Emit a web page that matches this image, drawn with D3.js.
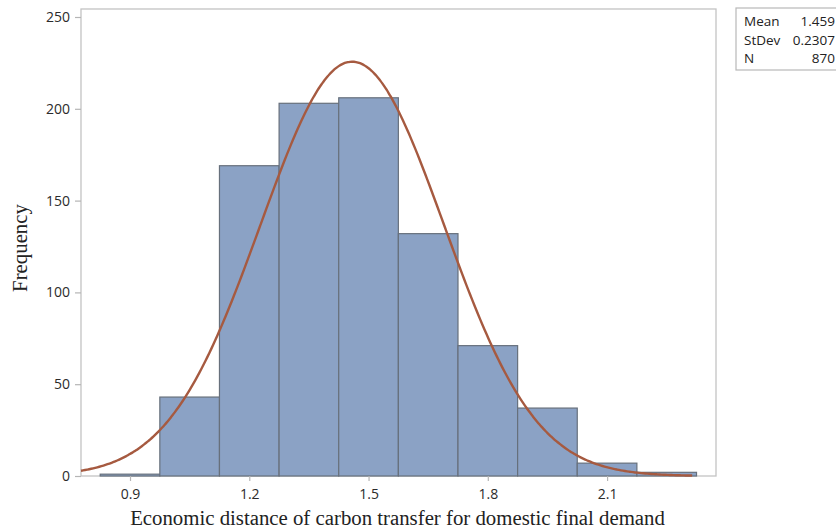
<!DOCTYPE html>
<meta charset="utf-8">
<body style="margin:0;background:#fff">
<script src="https://d3js.org/d3.v7.min.js"></script>
<script>

// histogram data
var binEdges = [0.825, 0.975, 1.125, 1.275, 1.425, 1.575, 1.725, 1.875, 2.025, 2.175, 2.325];
var counts   = [1, 43, 169, 203, 206, 132, 71, 37, 7, 2];
var xTicks   = [0.9, 1.2, 1.5, 1.8, 2.1];
var yTicks   = [0, 50, 100, 150, 200, 250];
var statLabels = ["Mean", "StDev", "N"];
var statValues = ["1.459", "0.2307", "870"];
var mean = 1.459, sd = 0.2307, n = 870;

var W = 836, H = 531;
var plot = {left: 81, right: 716, top: 9, bottom: 476};

var svg = d3.select("body").append("svg")
    .attr("width", W)
    .attr("height", H)
    .style("display", "block");

var x = d3.scaleLinear().domain([0.7767, 2.374]).range([plot.left, plot.right]);
var y = d3.scaleLinear().domain([0, 250]).range([plot.bottom, 17]);

// plot frame
svg.append("rect")
    .attr("x", plot.left).attr("y", plot.top)
    .attr("width", plot.right - plot.left)
    .attr("height", plot.bottom - plot.top)
    .attr("fill", "none")
    .attr("stroke", "#c3c3c3")
    .attr("stroke-width", 1.3);

// bars
svg.selectAll(".bar")
    .data(counts)
  .enter().append("rect")
    .attr("class", "bar")
    .attr("x", function(d, i) { return x(binEdges[i]); })
    .attr("y", function(d) { return y(d); })
    .attr("width", function(d, i) { return x(binEdges[i + 1]) - x(binEdges[i]); })
    .attr("height", function(d) { return y(0) - y(d); })
    .attr("fill", "#8ba2c5")
    .attr("stroke", "#67707c")
    .attr("stroke-width", 1.2);

// fitted normal curve (from the Mean / StDev / N shown in the box)
var bw = binEdges[1] - binEdges[0];
var xs = d3.range(0, 301).map(function(i) { return 0.7767 + i * (2.314 - 0.7767) / 300; });
var line = d3.line()
    .x(function(v) { return x(v); })
    .y(function(v) {
      var z = (v - mean) / sd;
      return y(n * bw * Math.exp(-0.5 * z * z) / (sd * Math.sqrt(2 * Math.PI)));
    })
    .curve(d3.curveBasis);

svg.append("path")
    .datum(xs)
    .attr("d", line)
    .attr("fill", "none")
    .attr("stroke", "#a65a40")
    .attr("stroke-width", 2.4);

// axes
var xAxis = svg.append("g")
    .attr("transform", "translate(0," + plot.bottom + ")")
    .call(d3.axisBottom(x).tickValues(xTicks).tickFormat(d3.format(".1f")).tickSize(5).tickSizeOuter(0));
var yAxis = svg.append("g")
    .attr("transform", "translate(" + plot.left + ",0)")
    .call(d3.axisLeft(y).tickValues(yTicks).tickSize(6).tickSizeOuter(0));

[xAxis, yAxis].forEach(function(g) {
  g.select(".domain").remove();
  g.selectAll("line").attr("stroke", "#b5b5b5").attr("stroke-width", 1.2);
  g.selectAll("text")
      .attr("fill", "#2b2b2b")
      .style("font-family", "'Open Sans', 'Noto Sans', sans-serif")
      .style("font-size", "14px");
});
xAxis.selectAll("text").attr("dy", "1.05em");
yAxis.selectAll("text").attr("x", -11);

// axis titles
svg.append("text")
    .attr("x", (plot.left + plot.right) / 2 - 1)
    .attr("y", 525)
    .attr("text-anchor", "middle")
    .style("font-family", "'Liberation Serif', 'Times New Roman', serif")
    .style("font-size", "20.8px")
    .attr("fill", "#222")
    .text("Economic distance of carbon transfer for domestic final demand");

svg.append("text")
    .attr("transform", "translate(27," + 248 + ") rotate(-90)")
    .attr("text-anchor", "middle")
    .style("font-family", "'Liberation Serif', 'Times New Roman', serif")
    .style("font-size", "20.8px")
    .attr("fill", "#222")
    .text("Frequency");

// stats box
var box = svg.append("g");
box.append("rect")
    .attr("x", 736).attr("y", 8)
    .attr("width", 110).attr("height", 62)
    .attr("fill", "#fff")
    .attr("stroke", "#b8b8b8")
    .attr("stroke-width", 1.2);
statLabels.forEach(function(lab, i) {
  box.append("text")
      .attr("x", 744).attr("y", 26 + i * 18.5)
      .style("font-family", "'Open Sans', 'Noto Sans', sans-serif")
      .style("font-size", "13.5px")
      .attr("fill", "#222")
      .text(lab);
  box.append("text")
      .attr("x", 835).attr("y", 26 + i * 18.5)
      .attr("text-anchor", "end")
      .style("font-family", "'Open Sans', 'Noto Sans', sans-serif")
      .style("font-size", "13.5px")
      .attr("fill", "#222")
      .text(statValues[i]);
});

</script>
</body>
